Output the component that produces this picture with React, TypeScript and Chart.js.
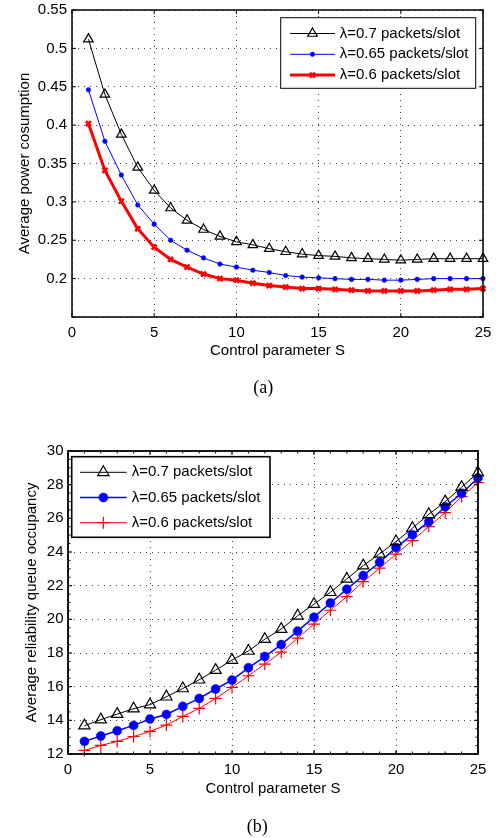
import React, { useEffect, useRef } from 'react';
import { Chart, registerables } from 'chart.js';
import { drawPoint } from 'chart.js/helpers';

Chart.register(...registerables);

// ---------- data ----------
const sValues = [1, 2, 3, 4, 5, 6, 7, 8, 9, 10, 11, 12, 13, 14, 15, 16, 17, 18, 19, 20, 21, 22, 23, 24, 25];
const seriesLabels = ['λ=0.7 packets/slot', 'λ=0.65 packets/slot', 'λ=0.6 packets/slot'];

const powerL07 = [0.512, 0.440, 0.388, 0.345, 0.315, 0.292, 0.276, 0.264, 0.255, 0.248, 0.244, 0.239, 0.235, 0.232, 0.230, 0.229, 0.227, 0.226, 0.225, 0.224, 0.225, 0.226, 0.226, 0.226, 0.226];
const powerL065 = [0.446, 0.379, 0.335, 0.296, 0.271, 0.250, 0.237, 0.227, 0.219, 0.215, 0.211, 0.208, 0.204, 0.202, 0.201, 0.200, 0.199, 0.199, 0.198, 0.198, 0.199, 0.200, 0.200, 0.200, 0.200];
const powerL06 = [0.402, 0.341, 0.301, 0.265, 0.241, 0.225, 0.215, 0.206, 0.200, 0.198, 0.194, 0.191, 0.189, 0.187, 0.187, 0.186, 0.185, 0.184, 0.184, 0.184, 0.184, 0.185, 0.186, 0.186, 0.187];

const queueL07 = [13.68, 14.04, 14.37, 14.69, 14.93, 15.40, 15.89, 16.41, 16.98, 17.58, 18.12, 18.82, 19.42, 20.21, 20.90, 21.61, 22.40, 23.19, 23.89, 24.62, 25.41, 26.24, 26.99, 27.85, 28.71];
const queueL065 = [12.75, 13.07, 13.38, 13.70, 14.08, 14.35, 14.83, 15.30, 15.86, 16.39, 17.12, 17.79, 18.50, 19.30, 20.13, 20.97, 21.79, 22.60, 23.39, 24.26, 25.03, 25.80, 26.69, 27.49, 28.40];
const queueL06 = [12.21, 12.51, 12.75, 13.04, 13.34, 13.72, 14.23, 14.71, 15.30, 15.95, 16.65, 17.34, 18.05, 18.88, 19.72, 20.54, 21.35, 22.24, 23.04, 23.87, 24.68, 25.51, 26.34, 27.29, 28.12];

const xTickValues = [0, 5, 10, 15, 20, 25];
const xTickLabels = ['0', '5', '10', '15', '20', '25'];
const yTickValuesA = [0.15, 0.2, 0.25, 0.3, 0.35, 0.4, 0.45, 0.5, 0.55];
const yTickLabelsA = ['', '0.2', '0.25', '0.3', '0.35', '0.4', '0.45', '0.5', '0.55'];
const yTickValuesB = [12, 14, 16, 18, 20, 22, 24, 26, 28, 30];
const yTickLabelsB = ['12', '14', '16', '18', '20', '22', '24', '26', '28', '30'];

const xTitle = 'Control parameter S';
const yTitleA = 'Average power cosumption';
const yTitleB = 'Average reliability queue occupancy';
const captionA = '(a)';
const captionB = '(b)';

// ---------- helpers ----------
const FONT = '"Liberation Sans", Arial, Helvetica, sans-serif';
Chart.defaults.font.family = FONT;
Chart.defaults.font.size = 15;
Chart.defaults.color = '#000';

const toPoints = (ys: number[]) => sValues.map((s, i) => ({ x: s, y: ys[i] }));

const labelFor = (values: number[], labels: string[]) => (v: any) => {
  const idx = values.findIndex((t) => Math.abs(t - Number(v)) < 1e-9);
  return idx >= 0 ? labels[idx] : '';
};

const axesPlugin = {
  id: 'matlabAxes',
  afterDraw(chart: any, _args: any, opts: any) {
    const { ctx, chartArea } = chart;
    const { left, right, top, bottom } = chartArea;
    const xs = chart.scales.x;
    const ys = chart.scales.y;
    ctx.save();
    ctx.strokeStyle = '#000';
    ctx.lineWidth = 1;
    ctx.setLineDash([]);
    const tl = opts.tickLength;
    ctx.beginPath();
    xs.ticks.forEach((t: any) => {
      const px = xs.getPixelForValue(t.value);
      ctx.moveTo(px, bottom); ctx.lineTo(px, bottom - tl);
      ctx.moveTo(px, top); ctx.lineTo(px, top + tl);
    });
    ys.ticks.forEach((t: any) => {
      const py = ys.getPixelForValue(t.value);
      ctx.moveTo(left, py); ctx.lineTo(left + tl, py);
      ctx.moveTo(right, py); ctx.lineTo(right - tl, py);
    });
    if (opts.minorX) {
      for (let v = xs.min; v <= xs.max + 1e-9; v += opts.minorX) {
        const px = xs.getPixelForValue(v);
        ctx.moveTo(px, bottom); ctx.lineTo(px, bottom - opts.minorLength);
        ctx.moveTo(px, top); ctx.lineTo(px, top + opts.minorLength);
      }
    }
    if (opts.minorY) {
      for (let v = ys.min; v <= ys.max + 1e-9; v += opts.minorY) {
        const py = ys.getPixelForValue(v);
        ctx.moveTo(left, py); ctx.lineTo(left + opts.minorLength, py);
        ctx.moveTo(right, py); ctx.lineTo(right - opts.minorLength, py);
      }
    }
    ctx.stroke();
    ctx.lineWidth = opts.boxWidth;
    ctx.strokeRect(left, top, right - left, bottom - top);
    ctx.restore();
  },
};

const legendPlugin = {
  id: 'matlabLegend',
  afterDraw(chart: any, _args: any, o: any) {
    const { ctx, chartArea } = chart;
    const left = o.anchor === 'right' ? chartArea.right - o.offsetX - o.width : chartArea.left + o.offsetX;
    const top = chartArea.top + o.offsetY;
    ctx.save();
    ctx.setLineDash([]);
    ctx.fillStyle = '#fff';
    ctx.fillRect(left, top, o.width, o.height);
    ctx.strokeStyle = '#000';
    ctx.lineWidth = o.borderWidth;
    ctx.strokeRect(left, top, o.width, o.height);
    chart.data.datasets.forEach((ds: any, i: number) => {
      const y = top + o.firstRow + i * o.rowGap;
      ctx.beginPath();
      ctx.strokeStyle = ds.borderColor;
      ctx.lineWidth = ds.borderWidth;
      ctx.moveTo(left + o.lineStart, y);
      ctx.lineTo(left + o.lineEnd, y);
      ctx.stroke();
      ctx.strokeStyle = ds.pointBorderColor;
      ctx.fillStyle = ds.pointBackgroundColor;
      ctx.lineWidth = ds.pointBorderWidth;
      drawPoint(ctx, { pointStyle: ds.pointStyle, radius: ds.pointRadius, rotation: 0, borderWidth: ds.pointBorderWidth } as any, left + (o.lineStart + o.lineEnd) / 2, y);
      ctx.fillStyle = '#000';
      ctx.font = `15px ${FONT}`;
      ctx.textAlign = 'left';
      ctx.textBaseline = 'middle';
      ctx.fillText(ds.label, left + o.textX, y);
    });
    ctx.restore();
  },
};

const gridColor = 'rgba(0,0,0,0.75)';
const gridDash = [1, 5];

function makeScales(yValues: number[], yLabels: string[], yMin: number, yMax: number, yWidth: number, yTitle: string, yTitlePad: number, yTickPad: number, xTitlePadBottom: number) {
  return {
    x: {
      type: 'linear',
      min: 0,
      max: 25,
      afterBuildTicks: (s: any) => { s.ticks = xTickValues.map((v) => ({ value: v })); },
      afterFit: (s: any) => { s.height = 44; s.paddingLeft = 0; s.paddingRight = 0; s.paddingTop = 0; s.paddingBottom = 0; },
      ticks: { callback: labelFor(xTickValues, xTickLabels), padding: 7, maxRotation: 0, autoSkip: false, color: '#000', font: { size: 15 } },
      grid: { color: gridColor, lineWidth: 1, drawTicks: false, borderDash: gridDash },
      border: { display: false, dash: gridDash },
      title: { display: true, text: xTitle, color: '#000', font: { size: 15 }, padding: { top: 0, bottom: xTitlePadBottom } },
    },
    y: {
      type: 'linear',
      min: yMin,
      max: yMax,
      afterBuildTicks: (s: any) => { s.ticks = yValues.map((v) => ({ value: v })); },
      afterFit: (s: any) => { s.width = yWidth; s.paddingLeft = 0; s.paddingRight = 0; s.paddingTop = 0; s.paddingBottom = 0; },
      ticks: { callback: labelFor(yValues, yLabels), padding: yTickPad, autoSkip: false, color: '#000', font: { size: 15 } },
      grid: { color: gridColor, lineWidth: 1, drawTicks: false, borderDash: gridDash },
      border: { display: false, dash: gridDash },
      title: { display: true, text: yTitle, color: '#000', font: { size: 15 }, padding: { top: yTitlePad, bottom: 0 } },
    },
  };
}

function configA(): any {
  return {
    type: 'line',
    data: {
      datasets: [
        { label: seriesLabels[0], data: toPoints(powerL07), borderColor: '#000000', borderWidth: 1, pointStyle: 'triangle', pointRadius: 5.5, pointBorderWidth: 1.2, pointBorderColor: '#000000', pointBackgroundColor: 'rgba(0,0,0,0)', tension: 0, clip: false },
        { label: seriesLabels[1], data: toPoints(powerL065), borderColor: '#0000ff', borderWidth: 1, pointStyle: 'circle', pointRadius: 2.3, pointBorderWidth: 0.5, pointBorderColor: '#0000ff', pointBackgroundColor: '#0000ff', tension: 0, clip: false },
        { label: seriesLabels[2], data: toPoints(powerL06), borderColor: '#ff0000', borderWidth: 3, pointStyle: 'crossRot', pointRadius: 3.5, pointBorderWidth: 2.6, pointBorderColor: '#ff0000', pointBackgroundColor: '#ff0000', tension: 0, clip: false },
      ],
    },
    options: {
      animation: false,
      responsive: false,
      devicePixelRatio: 1,
      events: [],
      layout: { padding: { left: 0, top: 10, right: 13, bottom: 39 } },
      scales: makeScales(yTickValuesA, yTickLabelsA, 0.15, 0.55, 72, yTitleA, 16, 5, 1),
      plugins: {
        legend: { display: false },
        title: { display: false },
        tooltip: { enabled: false },
        matlabAxes: { tickLength: 4, boxWidth: 1.5 },
        matlabLegend: { anchor: 'right', offsetX: 7.3, offsetY: 7.7, width: 195, height: 70.6, borderWidth: 1, firstRow: 15.8, rowGap: 20.8, lineStart: 9.3, lineEnd: 54.3, textX: 59 },
      },
    },
    plugins: [axesPlugin, legendPlugin],
  };
}

function configB(): any {
  return {
    type: 'line',
    data: {
      datasets: [
        { label: seriesLabels[0], data: toPoints(queueL07), borderColor: '#000000', borderWidth: 1, pointStyle: 'triangle', pointRadius: 6.5, pointBorderWidth: 1.2, pointBorderColor: '#000000', pointBackgroundColor: 'rgba(0,0,0,0)', tension: 0, clip: false },
        { label: seriesLabels[1], data: toPoints(queueL065), borderColor: '#0000ff', borderWidth: 1.5, pointStyle: 'circle', pointRadius: 4.5, pointBorderWidth: 0.5, pointBorderColor: '#0000ff', pointBackgroundColor: '#0000ff', tension: 0, clip: false },
        { label: seriesLabels[2], data: toPoints(queueL06), borderColor: '#ff0000', borderWidth: 1, pointStyle: 'cross', pointRadius: 6, pointBorderWidth: 1.2, pointBorderColor: '#ff0000', pointBackgroundColor: '#ff0000', tension: 0, clip: false },
      ],
    },
    options: {
      animation: false,
      responsive: false,
      devicePixelRatio: 1,
      events: [],
      layout: { padding: { left: 0, top: 51, right: 18, bottom: 40 } },
      scales: makeScales(yTickValuesB, yTickLabelsB, 12, 30, 68, yTitleB, 22.5, 4.5, 0),
      plugins: {
        legend: { display: false },
        title: { display: false },
        tooltip: { enabled: false },
        matlabAxes: { tickLength: 4, boxWidth: 1.8, minorX: 1, minorY: 0.5, minorLength: 2.5 },
        matlabLegend: { anchor: 'left', offsetX: 3.7, offsetY: 5.7, width: 198.3, height: 80.6, borderWidth: 1.6, firstRow: 15.6, rowGap: 25.2, lineStart: 8.3, lineEnd: 55, textX: 60 },
      },
    },
    plugins: [axesPlugin, legendPlugin],
  };
}

function ChartCanvas({ make, top, height }: { make: () => any; top: number; height: number }) {
  const ref = useRef<HTMLCanvasElement | null>(null);
  useEffect(() => {
    if (!ref.current) return;
    const chart = new Chart(ref.current, make());
    return () => chart.destroy();
  }, [make]);
  return (
    <canvas
      ref={ref}
      width={496}
      height={height}
      style={{ position: 'absolute', left: 0, top, width: 496, height, display: 'block' }}
    />
  );
}

const captionStyle = (x: number, y: number): React.CSSProperties => ({
  position: 'absolute',
  left: x,
  top: y,
  transform: 'translate(-50%, -50%)',
  fontFamily: '"Liberation Serif", "Times New Roman", serif',
  fontSize: 18,
  lineHeight: 1,
  color: '#000',
  whiteSpace: 'nowrap',
});

export default function App() {
  return (
    <div style={{ position: 'absolute', left: 0, top: 0, width: 496, height: 838, background: '#fff', overflow: 'hidden' }}>
      <ChartCanvas make={configA} top={0} height={400} />
      <ChartCanvas make={configB} top={400} height={438} />
      <div style={captionStyle(263.3, 386.7)}>{captionA}</div>
      <div style={captionStyle(257.3, 826)}>{captionB}</div>
    </div>
  );
}
